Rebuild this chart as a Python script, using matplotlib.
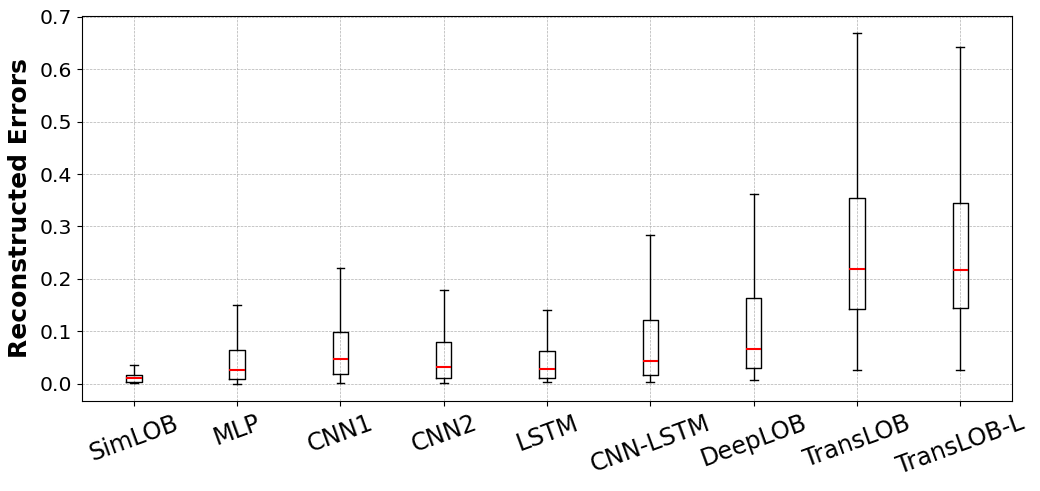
import matplotlib
matplotlib.use("Agg")
import matplotlib.pyplot as plt

models = ["SimLOB", "MLP", "CNN1", "CNN2", "LSTM", "CNN-LSTM", "DeepLOB", "TransLOB", "TransLOB-L"]
whisker_low = [0.002, 0.000, 0.002, 0.002, 0.0025, 0.0025, 0.0076, 0.0254, 0.0254]
q1 = [0.0038, 0.0096, 0.0191, 0.0115, 0.0115, 0.0159, 0.0306, 0.1434, 0.1453]
median = [0.0107, 0.026, 0.0465, 0.0318, 0.028, 0.0432, 0.066, 0.2186, 0.217]
q3 = [0.0172, 0.065, 0.0994, 0.0803, 0.063, 0.1224, 0.1644, 0.354, 0.344]
whisker_high = [0.0363, 0.1497, 0.221, 0.1797, 0.1415, 0.283, 0.363, 0.669, 0.6436]

stats = []
for i, name in enumerate(models):
    stats.append(dict(label=name, whislo=whisker_low[i], q1=q1[i], med=median[i],
                      q3=q3[i], whishi=whisker_high[i], fliers=[]))

fig = plt.figure(figsize=(10.4, 4.91), dpi=100)
ax = fig.add_axes([0.079, 0.183, 0.894, 0.785])
ax.bxp(stats, widths=0.15, showfliers=False,
       boxprops=dict(color="black"),
       whiskerprops=dict(color="black"),
       capprops=dict(color="black"),
       medianprops=dict(color="red", linewidth=1.5))
ax.grid(True, linestyle="--", linewidth=0.5, color="#b0b0b0")
ax.set_ylabel("Reconstructed Errors", fontsize=18, fontweight="bold", labelpad=6)
ax.tick_params(axis="y", labelsize=14.7)
ax.tick_params(axis="x", labelsize=17.3)
plt.setp(ax.get_xticklabels(), rotation=20)
ax.set_yticks([0.0, 0.1, 0.2, 0.3, 0.4, 0.5, 0.6, 0.7])
fig.savefig("out.png", dpi=100)
